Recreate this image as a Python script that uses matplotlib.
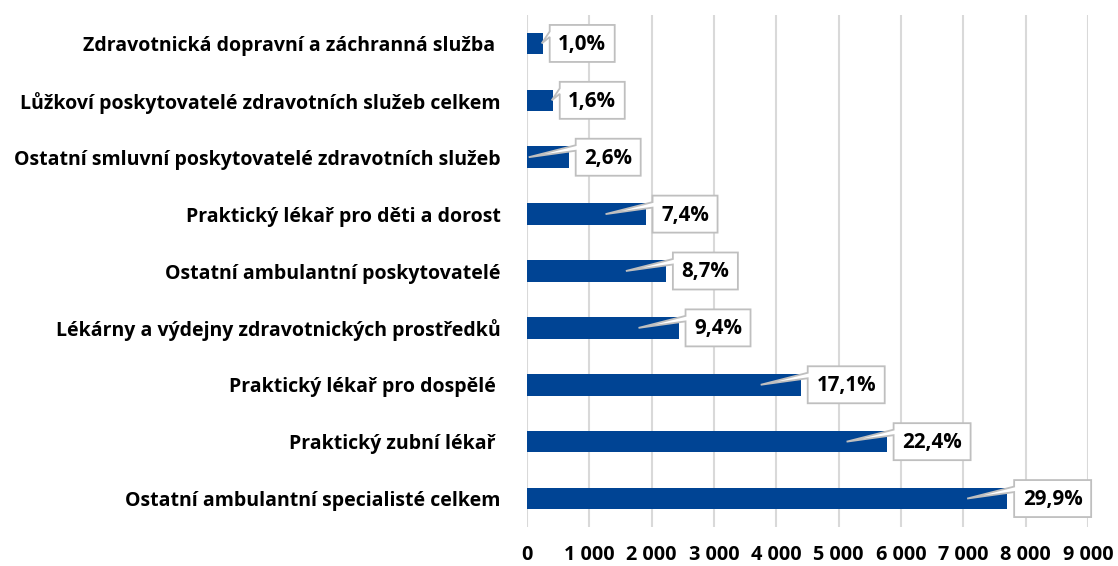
import matplotlib
matplotlib.use("Agg")
import matplotlib.pyplot as plt
import matplotlib.transforms as mtransforms
from matplotlib.patches import Polygon

plt.rcParams['font.family'] = ['Open Sans', 'DejaVu Sans']
plt.rcParams['font.weight'] = 'bold'

# top to bottom
categories = [
    "Zdravotnická dopravní a záchranná služba ",
    "Lůžkoví poskytovatelé zdravotních služeb celkem",
    "Ostatní smluvní poskytovatelé zdravotních služeb",
    "Praktický lékař pro děti a dorost",
    "Ostatní ambulantní poskytovatelé",
    "Lékárny a výdejny zdravotnických prostředků",
    "Praktický lékař pro dospělé ",
    "Praktický zubní lékař ",
    "Ostatní ambulantní specialisté celkem",
]
values = [252, 413, 669, 1902, 2228, 2431, 4391, 5769, 7703]
shares = ["1,0%", "1,6%", "2,6%", "7,4%", "8,7%", "9,4%", "17,1%", "22,4%", "29,9%"]
xticks = [0, 1000, 2000, 3000, 4000, 5000, 6000, 7000, 8000, 9000]
xtick_labels = ["0", "1 000", "2 000", "3 000", "4 000", "5 000",
                "6 000", "7 000", "8 000", "9 000"]

BAR_COLOR = '#004494'
GRID_COLOR = '#D9D9D9'
BOX_EDGE = '#BFBFBF'

fig = plt.figure(figsize=(11.18, 5.66), dpi=100)
W, H = 1118, 566
ax = fig.add_axes([527 / W, (H - 527) / H, (1088 - 527) / W, 512 / H])

y = list(range(len(categories)))
ax.barh(y, values, height=0.38, color=BAR_COLOR, zorder=2)

ax.set_xlim(0, 9000)
ax.set_ylim(len(categories) - 0.5, -0.5)
ax.set_xticks(xticks)
ax.set_xticklabels(xtick_labels, fontsize=14.3, fontweight='bold')
ax.set_yticks(y)
ax.set_yticklabels(categories, fontsize=14, fontweight='bold')
ax.tick_params(axis='both', length=0)
ax.tick_params(axis='y', pad=19)
ax.tick_params(axis='x', pad=13)
ax.xaxis.grid(True, color=GRID_COLOR, linewidth=1.5, zorder=0)
ax.set_axisbelow(True)
for s in ax.spines.values():
    s.set_visible(False)

px_per_unit = (1088 - 527) / 9000

# callout labels (shape in pixels, anchored at bar end)
for i, (v, lab) in enumerate(zip(values, shares)):
    w = 65 if len(lab) == 4 else 77
    bar_px = v * px_per_unit
    tip = -40 if bar_px > 40 else -1
    x0 = 7
    verts = [(x0, 18.5), (x0 + w, 18.5), (x0 + w, -18.5), (x0, -18.5),
             (x0, 6.5), (tip, 0), (x0, 12)]
    tr = mtransforms.ScaledTranslation(v, i, ax.transData)
    poly = Polygon(verts, closed=True, facecolor='white', edgecolor=BOX_EDGE,
                   linewidth=1.3, transform=tr, clip_on=False, zorder=4)
    ax.add_artist(poly)
    ax.annotate(lab, xy=(v, i), xytext=(x0 + w / 2, -1), textcoords='offset pixels',
                ha='center', va='center', fontsize=14.8, fontweight='bold',
                color='black', zorder=5, annotation_clip=False)

fig.savefig("out.png", dpi=100)
